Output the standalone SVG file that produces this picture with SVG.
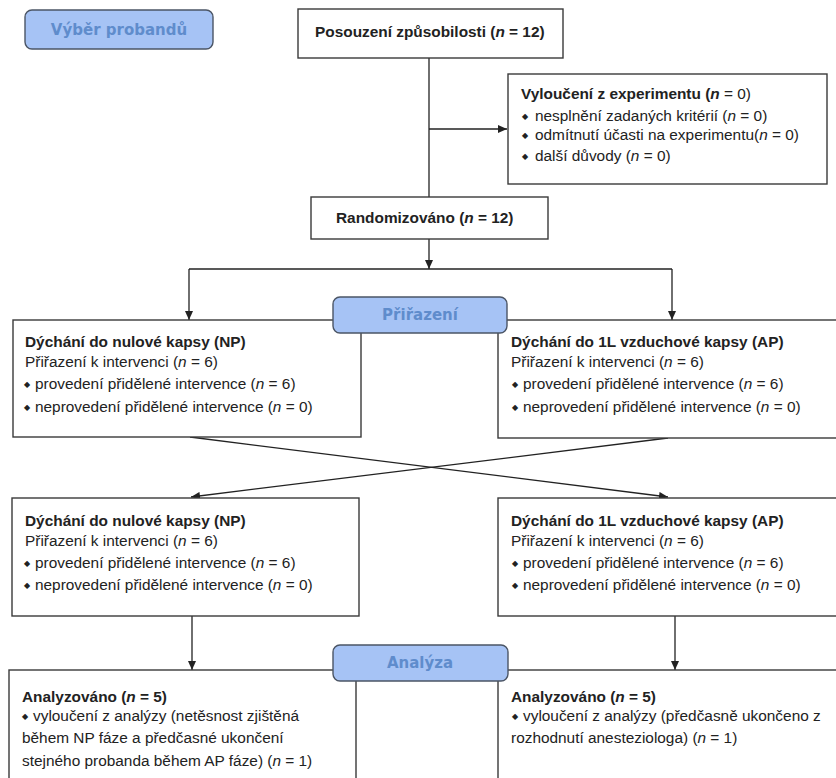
<svg xmlns="http://www.w3.org/2000/svg" width="836" height="778" viewBox="0 0 836 778">
<defs>
<marker id="ah" markerWidth="9" markerHeight="8" refX="9" refY="4" orient="auto" markerUnits="userSpaceOnUse">
<path d="M0,0 L9,4 L0,8 Z" fill="#222"/>
</marker>
<style>
.box{fill:#fff;stroke:#3a3a3a;stroke-width:1.4}
.lbl{fill:#a6c3f5;stroke:#4b5565;stroke-width:1.4}
.lt{font-family:"DejaVu Sans",sans-serif;font-weight:bold;font-size:15px;fill:#5f8ccc;text-anchor:middle}
.t{font-family:"Liberation Sans",Arial,sans-serif;font-size:15.4px;fill:#222}
.b{font-weight:bold}
.i{font-style:italic}
.n{font-weight:normal}
.bul{font-family:"DejaVu Sans",sans-serif;font-size:8px;fill:#222}
.c{fill:none;stroke:#222;stroke-width:1.3}
</style>
</defs>
<rect width="836" height="778" fill="#fff"/>
<g id="connectors">
<path class="c" d="M429,58 V198"/>
<path class="c" d="M429,129 H507" marker-end="url(#ah)"/>
<path class="c" d="M429,239 V269" marker-end="url(#ah)"/>
<path class="c" d="M189,269 H672"/>
<path class="c" d="M189,269 V320" marker-end="url(#ah)"/>
<path class="c" d="M672,269 V320" marker-end="url(#ah)"/>
<path class="c" d="M190,437 L668,497" marker-end="url(#ah)"/>
<path class="c" d="M668,438 L191,497" marker-end="url(#ah)"/>
<path class="c" d="M192,616 V670" marker-end="url(#ah)"/>
<path class="c" d="M675,616 V670" marker-end="url(#ah)"/>
</g>
<g id="vyber">
<rect class="lbl" x="25" y="10" width="188" height="39" rx="7"/>
<text class="lt" x="119" y="35">Výběr probandů</text>
</g>
<g id="posouzeni">
<rect class="box" x="298" y="9" width="265" height="49"/>
<text class="t b" x="315" y="37">Posouzení způsobilosti (<tspan class="i">n</tspan> = 12)</text>
</g>
<g id="vylouceni">
<rect class="box" x="508" y="74" width="319" height="110"/>
<text class="t b" x="521" y="99">Vyloučení z experimentu (<tspan class="i">n</tspan><tspan class="n"> = 0)</tspan></text>
<text class="bul" x="522" y="119">◆</text>
<text class="t" x="535" y="121">nesplnění zadaných kritérií (<tspan class="i">n</tspan> = 0)</text>
<text class="bul" x="522" y="138">◆</text>
<text class="t" x="535" y="140">odmítnutí účasti na experimentu(<tspan class="i">n</tspan> = 0)</text>
<text class="bul" x="522" y="159">◆</text>
<text class="t" x="535" y="161">další důvody (<tspan class="i">n</tspan> = 0)</text>
</g>
<g id="randomizovano">
<rect class="box" x="311" y="197" width="237" height="42"/>
<text class="t b" x="336" y="223">Randomizováno (<tspan class="i">n</tspan> = 12)</text>
</g>
<g id="np1">
<rect class="box" x="13" y="320" width="348" height="117"/>
<text class="t b" x="25" y="347">Dýchání do nulové kapsy (NP)</text>
<text class="t" x="25" y="367">Přiřazení k intervenci (<tspan class="i">n</tspan> = 6)</text>
<text class="bul" x="24" y="387">◆</text>
<text class="t" x="35" y="389">provedení přidělené intervence (<tspan class="i">n</tspan> = 6)</text>
<text class="bul" x="24" y="410">◆</text>
<text class="t" x="35" y="412">neprovedení přidělené intervence (<tspan class="i">n</tspan> = 0)</text>
</g>
<g id="ap1">
<rect class="box" x="498" y="320" width="360" height="118"/>
<text class="t b" x="511" y="347">Dýchání do 1L vzduchové kapsy (AP)</text>
<text class="t" x="511" y="367">Přiřazení k intervenci (<tspan class="i">n</tspan> = 6)</text>
<text class="bul" x="512" y="387">◆</text>
<text class="t" x="523" y="389">provedení přidělené intervence (<tspan class="i">n</tspan> = 6)</text>
<text class="bul" x="512" y="410">◆</text>
<text class="t" x="523" y="412">neprovedení přidělené intervence (<tspan class="i">n</tspan> = 0)</text>
</g>
<g id="prirazeni">
<rect class="lbl" x="333" y="297" width="174" height="36" rx="7"/>
<text class="lt" x="420" y="320">Přiřazení</text>
</g>
<g id="np2">
<rect class="box" x="12" y="498" width="347" height="118"/>
<text class="t b" x="25" y="526">Dýchání do nulové kapsy (NP)</text>
<text class="t" x="25" y="546">Přiřazení k intervenci (<tspan class="i">n</tspan> = 6)</text>
<text class="bul" x="24" y="566">◆</text>
<text class="t" x="35" y="568">provedení přidělené intervence (<tspan class="i">n</tspan> = 6)</text>
<text class="bul" x="24" y="588">◆</text>
<text class="t" x="35" y="590">neprovedení přidělené intervence (<tspan class="i">n</tspan> = 0)</text>
</g>
<g id="ap2">
<rect class="box" x="498" y="498" width="360" height="118"/>
<text class="t b" x="511" y="526">Dýchání do 1L vzduchové kapsy (AP)</text>
<text class="t" x="511" y="546">Přiřazení k intervenci (<tspan class="i">n</tspan> = 6)</text>
<text class="bul" x="512" y="566">◆</text>
<text class="t" x="523" y="568">provedení přidělené intervence (<tspan class="i">n</tspan> = 6)</text>
<text class="bul" x="512" y="588">◆</text>
<text class="t" x="523" y="590">neprovedení přidělené intervence (<tspan class="i">n</tspan> = 0)</text>
</g>
<g id="an1">
<rect class="box" x="9" y="670" width="347" height="120"/>
<text class="t b" x="22" y="702">Analyzováno (<tspan class="i">n</tspan> = 5)</text>
<text class="bul" x="22" y="719">◆</text>
<text class="t" x="33" y="721">vyloučení z analýzy (netěsnost zjištěná</text>
<text class="t" x="22" y="743">během NP fáze a předčasné ukončení</text>
<text class="t" x="22" y="766">stejného probanda během AP fáze) (<tspan class="i">n</tspan> = 1)</text>
</g>
<g id="an2">
<rect class="box" x="498" y="670" width="360" height="120"/>
<text class="t b" x="511" y="702">Analyzováno (<tspan class="i">n</tspan> = 5)</text>
<text class="bul" x="512" y="719">◆</text>
<text class="t" x="523" y="721">vyloučení z analýzy (předčasně ukončeno z</text>
<text class="t" x="511" y="743">rozhodnutí anesteziologa) (<tspan class="i">n</tspan> = 1)</text>
</g>
<g id="analyza">
<rect class="lbl" x="333" y="645" width="175" height="36" rx="7"/>
<text class="lt" x="420" y="668">Analýza</text>
</g>
</svg>
